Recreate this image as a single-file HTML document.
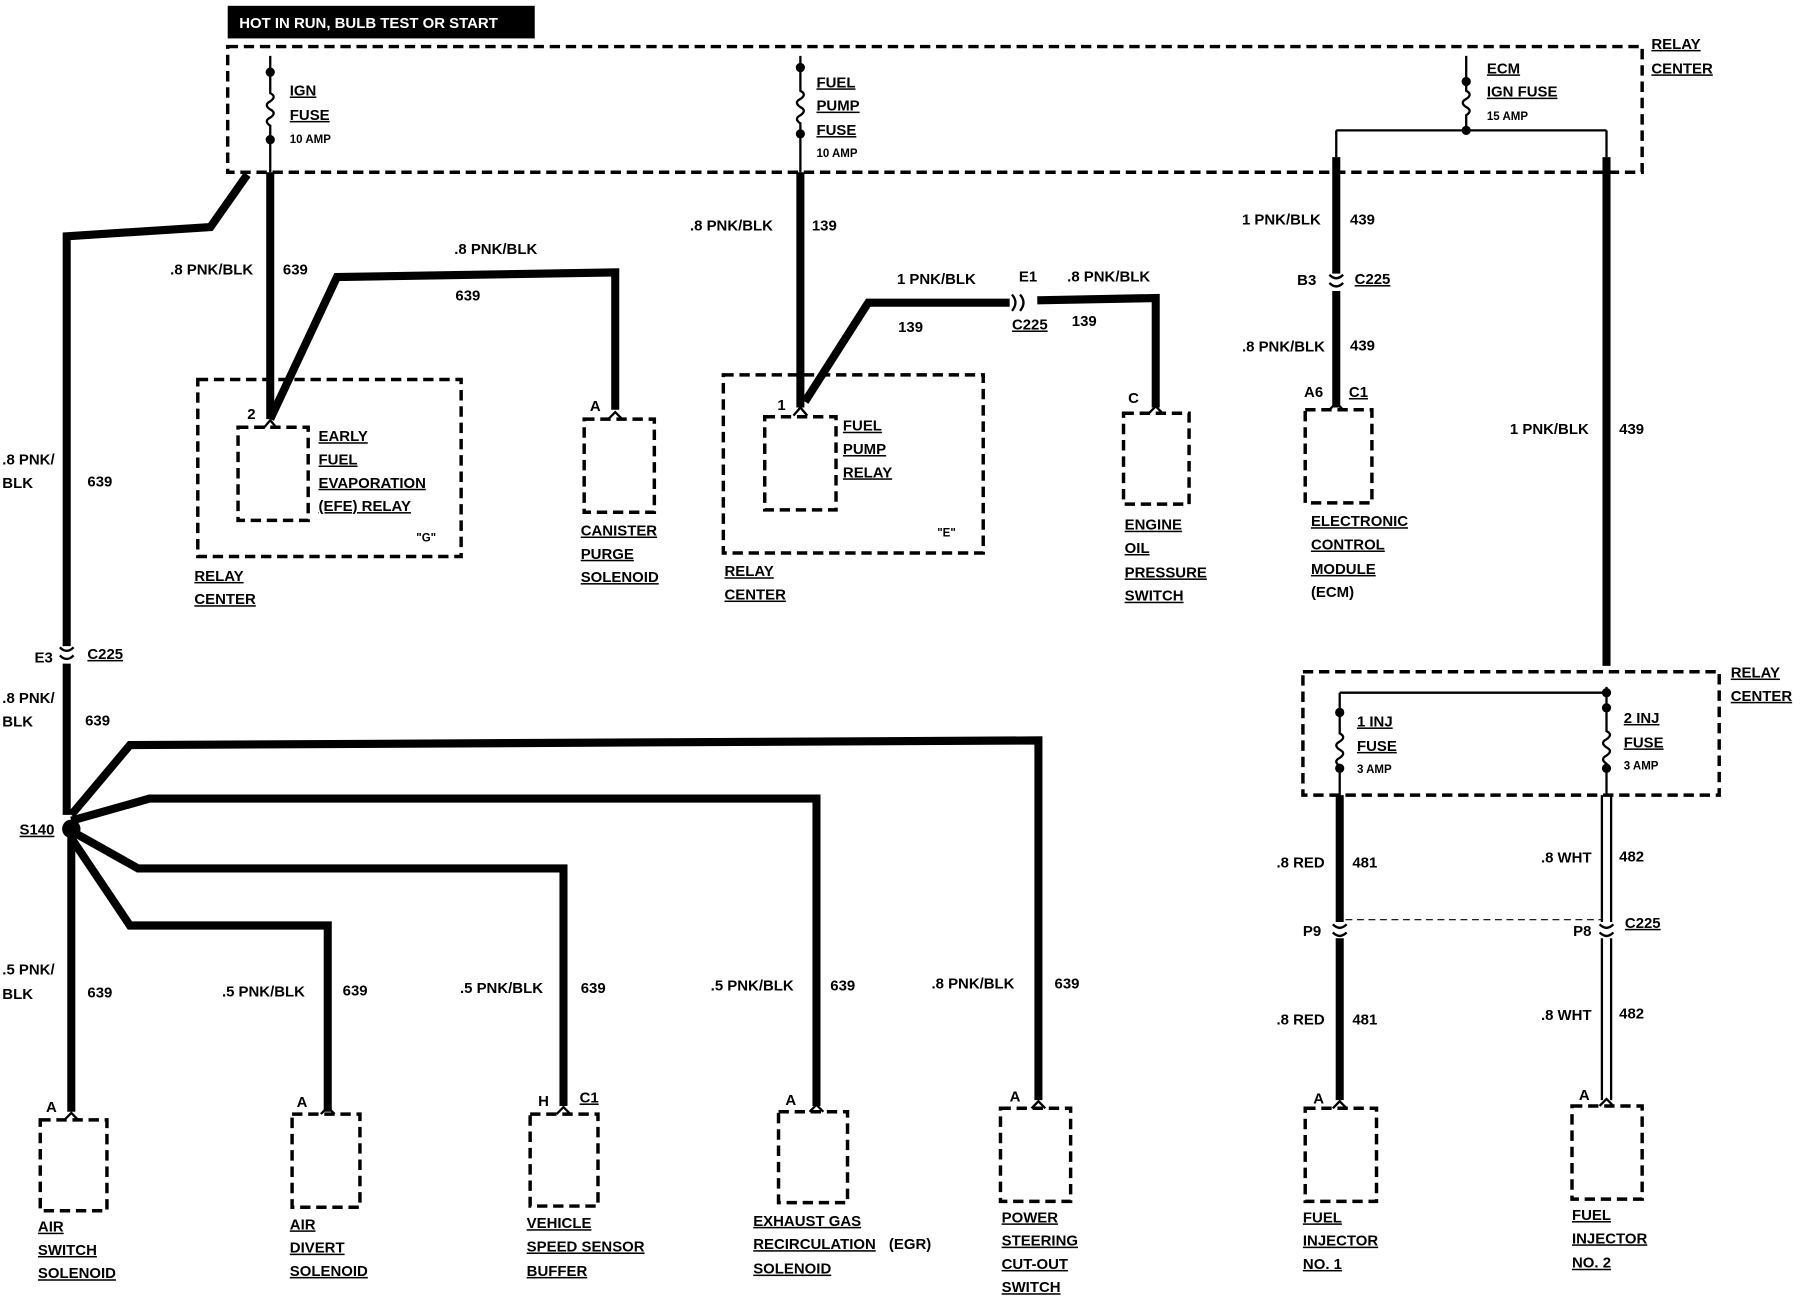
<!DOCTYPE html>
<html><head><meta charset="utf-8"><style>
html,body{margin:0;padding:0;background:#fff;}
svg{display:block;}
text{font-family:"Liberation Sans",sans-serif;font-weight:bold;font-size:13px;fill:#000;}
.u{text-decoration:underline;}
.s{font-size:10px;}
.w{stroke:#000;stroke-width:7;fill:none;stroke-linejoin:miter;}
.t{stroke:#000;stroke-width:2;fill:none;}
.d{stroke:#000;stroke-width:3;fill:none;stroke-dasharray:9 5;}
.dt{stroke:#000;stroke-width:1;fill:none;stroke-dasharray:6 4;}
</style></head><body>
<svg width="1802" height="1312" viewBox="0 0 1567 1127" preserveAspectRatio="none" xmlns="http://www.w3.org/2000/svg">
<rect width="1567" height="1127" fill="#fff"/>
<!-- header -->
<rect x="198" y="5" width="267" height="28" fill="#000"/>
<text x="208" y="24" style="fill:#fff;font-size:13px">HOT IN RUN, BULB TEST OR START</text>
<!-- top relay center -->
<rect class="d" x="198" y="40" width="1230" height="108"/>
<text class="u" x="1436" y="42">RELAY</text><text class="u" x="1436" y="63">CENTER</text>
<!-- fuses -->
<g class="t">
<path d="M235,48 V62 M235,62 V80 q6,3 0,7 q-6,3 0,7 q6,3 0,7 q-6,3 0,7 V120"/>
<path d="M696,48 V58 M696,58 V78 q6,3 0,7 q-6,3 0,7 q6,3 0,7 q-6,3 0,7 V115"/>
<path d="M1275,48 V70 M1275,70 V78 q6,3 0,7 q-6,3 0,7 q6,3 0,7 V112"/>
<path d="M1162,112 H1397 M1162,112 V135 M1397,112 V135"/>
<path d="M235,120 V148 M696,115 V148"/>
</g>
<g fill="#000"><circle cx="235" cy="62" r="4"/><circle cx="235" cy="120" r="4"/><circle cx="696" cy="58" r="4"/><circle cx="696" cy="115" r="4"/><circle cx="1275" cy="70" r="4"/><circle cx="1275" cy="112" r="4"/></g>
<text class="u" x="252" y="82">IGN</text><text class="u" x="252" y="103">FUSE</text><text class="s" x="252" y="123">10 AMP</text>
<text class="u" x="710" y="75">FUEL</text><text class="u" x="710" y="95">PUMP</text><text class="u" x="710" y="116">FUSE</text><text class="s" x="710" y="135">10 AMP</text>
<text class="u" x="1293" y="63">ECM</text><text class="u" x="1293" y="83">IGN FUSE</text><text class="s" x="1293" y="103">15 AMP</text>
<!-- wires -->
<path class="w" d="M235,148 V360"/>
<path class="w" d="M215,150 L183,195 L58,203 V555 M58,570 V700"/>
<path class="w" d="M235,360 L293,238 L535,234 V352"/>
<path class="w" d="M696,148 V350"/>
<path class="w" d="M700,345 L755,260 L878,260 M902,258 L1005,256 V350"/>
<path class="w" d="M1162,135 V235 M1162,250 V350"/>
<path class="w" d="M1397,135 V572"/>
<path class="w" d="M62,700 L113,640 L903,636 V945"/>
<path class="w" d="M62,705 L130,686 L710,686 V950"/>
<path class="w" d="M66,716 L120,746 L490,746 V950"/>
<path class="w" d="M62,720 L113,795 L285,795 V955"/>
<path class="w" d="M62,712 V955"/>
<circle cx="62" cy="712" r="8" fill="#000"/>
<!-- inline connectors -->
<g class="t" stroke-width="2.5">
<path d="M52,556 q6,6 12,0 M52,563 q6,6 12,0"/>
<path d="M1156,236 q6,6 12,0 M1156,243 q6,6 12,0"/>
<path d="M880,253 q6,7 0,14 M887,253 q6,7 0,14"/>
<path d="M1159,794 q6,6 12,0 M1159,801 q6,6 12,0"/>
<path d="M1391,794 q6,6 12,0 M1391,801 q6,6 12,0"/>
</g>
<!-- lower relay center -->
<rect class="d" x="1133" y="577" width="362" height="106"/>
<text class="u" x="1505" y="582">RELAY</text><text class="u" x="1505" y="602">CENTER</text>
<g class="t">
<path d="M1165,595 H1397 M1165,595 V610"/>
<path d="M1165,610 V630 q6,3 0,7 q-6,3 0,7 q6,3 0,7 q-6,3 0,7 V683"/>
<path d="M1397,590 V606 M1397,606 V628 q6,3 0,7 q-6,3 0,7 q6,3 0,7 q-6,3 0,7 V683"/>
<path d="M1393,683 V792 M1401,683 V792 M1393,806 V945 M1401,806 V945"/>
</g>
<g fill="#000"><circle cx="1397" cy="595" r="4"/><circle cx="1165" cy="612" r="4"/><circle cx="1165" cy="660" r="4"/><circle cx="1397" cy="608" r="4"/><circle cx="1397" cy="660" r="4"/></g>
<path class="w" d="M1165,683 V792 M1165,806 V945"/>
<path class="dt" d="M1170,790 H1393"/>
<text class="u" x="1180" y="624">1 INJ</text><text class="u" x="1180" y="645">FUSE</text><text class="s" x="1180" y="664">3 AMP</text>
<text class="u" x="1412" y="621">2 INJ</text><text class="u" x="1412" y="642">FUSE</text><text class="s" x="1412" y="661">3 AMP</text>
<!-- component boxes -->
<rect class="d" x="172" y="326" width="229" height="152"/>
<rect class="d" x="207" y="367" width="61" height="80"/>
<rect class="d" x="508" y="360" width="61" height="80"/>
<rect class="d" x="629" y="322" width="226" height="153"/>
<rect class="d" x="665" y="358" width="62" height="80"/>
<rect class="d" x="977" y="355" width="57" height="78"/>
<rect class="d" x="1135" y="352" width="58" height="80"/>
<rect class="d" x="35" y="962" width="58" height="78"/>
<rect class="d" x="254" y="957" width="59" height="80"/>
<rect class="d" x="461" y="957" width="59" height="79"/>
<rect class="d" x="677" y="955" width="60" height="78"/>
<rect class="d" x="870" y="952" width="61" height="80"/>
<rect class="d" x="1135" y="952" width="62" height="80"/>
<rect class="d" x="1367" y="950" width="61" height="80"/>
<!-- pin chevrons -->
<g class="t" stroke-width="2.5">
<path d="M229,368 l6,-7 l6,7"/><path d="M529,360 l6,-6 l6,6"/><path d="M690,357 l6,-7 l6,7"/>
<path d="M999,355 l6,-6 l6,6"/><path d="M1156,352 l6,-6 l6,6"/>
<path d="M56,962 l6,-6 l6,6"/><path d="M279,957 l6,-6 l6,6"/><path d="M484,957 l6,-6 l6,6"/>
<path d="M704,955 l6,-6 l6,6"/><path d="M897,952 l6,-6 l6,6"/><path d="M1159,952 l6,-6 l6,6"/><path d="M1391,950 l6,-6 l6,6"/>
</g>
<!-- wire labels -->
<text x="148" y="236">.8 PNK/BLK</text><text x="246" y="236">639</text>
<text x="395" y="218">.8 PNK/BLK</text><text x="396" y="258">639</text>
<text x="600" y="198">.8 PNK/BLK</text><text x="706" y="198">139</text>
<text x="780" y="244">1 PNK/BLK</text><text x="781" y="285">139</text>
<text x="886" y="242">E1</text><text class="u" x="880" y="283">C225</text>
<text x="928" y="242">.8 PNK/BLK</text><text x="932" y="280">139</text>
<text x="1080" y="193">1 PNK/BLK</text><text x="1174" y="193">439</text>
<text x="1128" y="245">B3</text><text class="u" x="1178" y="244">C225</text>
<text x="1080" y="302">.8 PNK/BLK</text><text x="1174" y="301">439</text>
<text x="1134" y="341">A6</text><text class="u" x="1173" y="341">C1</text>
<text x="1313" y="373">1 PNK/BLK</text><text x="1408" y="373">439</text>
<text x="2" y="399">.8 PNK/</text><text x="2" y="419">BLK</text><text x="76" y="418">639</text>
<text x="30" y="569">E3</text><text class="u" x="76" y="566">C225</text>
<text x="2" y="604">.8 PNK/</text><text x="2" y="624">BLK</text><text x="74" y="623">639</text>
<text class="u" x="17" y="717">S140</text>
<text x="2" y="837">.5 PNK/</text><text x="2" y="858">BLK</text><text x="76" y="857">639</text>
<text x="193" y="856">.5 PNK/BLK</text><text x="298" y="855">639</text>
<text x="400" y="853">.5 PNK/BLK</text><text x="505" y="853">639</text>
<text x="618" y="851">.5 PNK/BLK</text><text x="722" y="851">639</text>
<text x="810" y="849">.8 PNK/BLK</text><text x="917" y="849">639</text>
<text x="1110" y="745">.8 RED</text><text x="1176" y="745">481</text>
<text x="1340" y="741">.8 WHT</text><text x="1408" y="740">482</text>
<text x="1133" y="804">P9</text><text x="1368" y="804">P8</text><text class="u" x="1413" y="797">C225</text>
<text x="1110" y="880">.8 RED</text><text x="1176" y="880">481</text>
<text x="1340" y="876">.8 WHT</text><text x="1408" y="875">482</text>
<!-- pin letters -->
<text x="215" y="360">2</text><text x="513" y="353">A</text><text x="676" y="352">1</text><text x="981" y="346">C</text>
<text x="40" y="955">A</text><text x="258" y="951">A</text><text x="468" y="950">H</text><text class="u" x="504" y="947">C1</text>
<text x="683" y="949">A</text><text x="878" y="946">A</text><text x="1142" y="948">A</text><text x="1373" y="945">A</text>
<!-- component labels -->
<text class="u" x="277" y="379">EARLY</text><text class="u" x="277" y="399">FUEL</text><text class="u" x="277" y="419">EVAPORATION</text><text class="u" x="277" y="439">(EFE) RELAY</text>
<text class="s" x="362" y="465">"G"</text>
<text class="u" x="169" y="499">RELAY</text><text class="u" x="169" y="519">CENTER</text>
<text class="u" x="505" y="460">CANISTER</text><text class="u" x="505" y="480">PURGE</text><text class="u" x="505" y="500">SOLENOID</text>
<text class="u" x="733" y="370">FUEL</text><text class="u" x="733" y="390">PUMP</text><text class="u" x="733" y="410">RELAY</text>
<text class="s" x="815" y="461">"E"</text>
<text class="u" x="630" y="495">RELAY</text><text class="u" x="630" y="515">CENTER</text>
<text class="u" x="978" y="455">ENGINE</text><text class="u" x="978" y="475">OIL</text><text class="u" x="978" y="496">PRESSURE</text><text class="u" x="978" y="516">SWITCH</text>
<text class="u" x="1140" y="452">ELECTRONIC</text><text class="u" x="1140" y="472">CONTROL</text><text class="u" x="1140" y="493">MODULE</text><text x="1140" y="513">(ECM)</text>
<text class="u" x="33" y="1058">AIR</text><text class="u" x="33" y="1078">SWITCH</text><text class="u" x="33" y="1098">SOLENOID</text>
<text class="u" x="252" y="1056">AIR</text><text class="u" x="252" y="1076">DIVERT</text><text class="u" x="252" y="1096">SOLENOID</text>
<text class="u" x="458" y="1055">VEHICLE</text><text class="u" x="458" y="1075">SPEED SENSOR</text><text class="u" x="458" y="1096">BUFFER</text>
<text class="u" x="655" y="1053">EXHAUST GAS</text><text class="u" x="655" y="1073">RECIRCULATION</text><text x="773" y="1073">(EGR)</text><text class="u" x="655" y="1094">SOLENOID</text>
<text class="u" x="871" y="1050">POWER</text><text class="u" x="871" y="1070">STEERING</text><text class="u" x="871" y="1090">CUT-OUT</text><text class="u" x="871" y="1110">SWITCH</text>
<text class="u" x="1133" y="1050">FUEL</text><text class="u" x="1133" y="1070">INJECTOR</text><text class="u" x="1133" y="1090">NO. 1</text>
<text class="u" x="1367" y="1048">FUEL</text><text class="u" x="1367" y="1068">INJECTOR</text><text class="u" x="1367" y="1089">NO. 2</text>
</svg>
</body></html>
